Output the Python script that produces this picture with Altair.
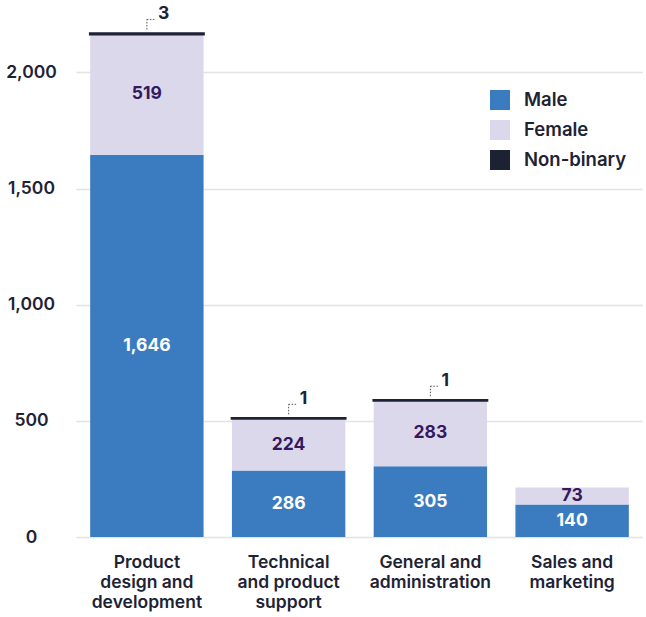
import altair as alt
import pandas as pd

categories = ["Product|design and|development", "Technical|and product|support",
              "General and|administration", "Sales and|marketing"]
male = [1646, 286, 305, 140]
female = [519, 224, 283, 73]
nonbinary = [3, 1, 1, 0]
genders = ["Male", "Female", "Non-binary"]
colors = ["#3b7cc1", "#dcd8ec", "#1d2134"]

rows = []
for i, c in enumerate(categories):
    base = 0
    for g, v in zip(genders, [male[i], female[i], nonbinary[i]]):
        rows.append({"cat": c, "gender": g, "value": v, "start": base, "end": base + v,
                     "mid": base + v / 2, "order": genders.index(g)})
        base += v
df = pd.DataFrame(rows)
df_bars = df[df.value > 0]
df_nb = df[(df.gender == "Non-binary") & (df.value > 0)]
df_in = df[df.gender != "Non-binary"]

FONT = "Inter"
DARK = "#1e2235"

xaxis = alt.Axis(labelExpr="split(datum.label, '|')", labelAngle=0, labelFont=FONT,
                 labelFontSize=17.5, labelFontWeight=600, labelColor=DARK, labelPadding=16,
                 labelLineHeight=20, domain=False, ticks=False, tickSize=0, labelBaseline="top")
xscale = alt.Scale(paddingInner=0.2, paddingOuter=0.1)
xs = alt.X("cat:N", sort=categories, title=None, scale=xscale, axis=xaxis)
yscale = alt.Scale(domain=[0, 2200], nice=False)
yaxis = alt.Axis(values=[0, 500, 1000, 1500, 2000], format=",.0f", labelFont=FONT,
                 labelFontSize=17.5, labelFontWeight=600, labelColor=DARK,
                 labelAlign="center", labelPadding=45, tickSize=0, ticks=False,
                 domain=False, gridColor="#e3e3e3", gridWidth=1.5)
ys = lambda f: alt.Y(f, scale=yscale, axis=yaxis, title=None)

bars = alt.Chart(df_bars).mark_bar(stroke=DARK).encode(
    x=xs,
    y=ys("start:Q"),
    y2="end:Q",
    color=alt.Color("gender:N", sort=genders, scale=alt.Scale(domain=genders, range=colors),
                    legend=alt.Legend(title=None, orient="none", legendX=414, legendY=64,
                                      symbolType="square", symbolSize=400, symbolStrokeWidth=0,
                                      labelFont=FONT, labelFontSize=18.5, labelFontWeight=600,
                                      labelColor=DARK, rowPadding=10, labelOffset=14)),
    strokeWidth=alt.condition(alt.datum.gender == "Non-binary", alt.value(2.5), alt.value(0)),
    order=alt.Order("order:Q"),
)

labels = alt.Chart(df_in).mark_text(font=FONT, fontSize=17.5, fontWeight=700, baseline="middle").encode(
    x=xs,
    y=ys("mid:Q"),
    text=alt.Text("value:Q", format=","),
    color=alt.Color("gender:N", scale=alt.Scale(domain=["Male", "Female"], range=["#ffffff", "#35195e"]),
                    legend=None),
)

vline = alt.Chart(df_nb).mark_rule(strokeDash=[1.5, 1.5], color="#555", strokeWidth=1,
                                   yOffset=-4, y2Offset=-14).encode(
    x=xs, y=ys("end:Q"), y2="end:Q")
hline = alt.Chart(df_nb).mark_rule(strokeDash=[1.5, 1.5], color="#555", strokeWidth=1,
                                   yOffset=-14, x2Offset=8).encode(
    x=xs, x2="cat:N", y=ys("end:Q"))
nbtext = alt.Chart(df_nb).mark_text(font=FONT, fontSize=17.5, fontWeight=700, align="left",
                                    baseline="middle", dx=11, dy=-19, color=DARK).encode(
    x=xs, y=ys("end:Q"), text="value:Q")

chart = alt.layer(bars, labels, vline, hline, nbtext).resolve_scale(color="independent").properties(
    width=567, height=511, padding={"left": 5, "top": 5, "right": 0, "bottom": 5}
).configure_view(stroke=None)

chart.save("out.html", embed_options={"renderer": "svg", "actions": False})
